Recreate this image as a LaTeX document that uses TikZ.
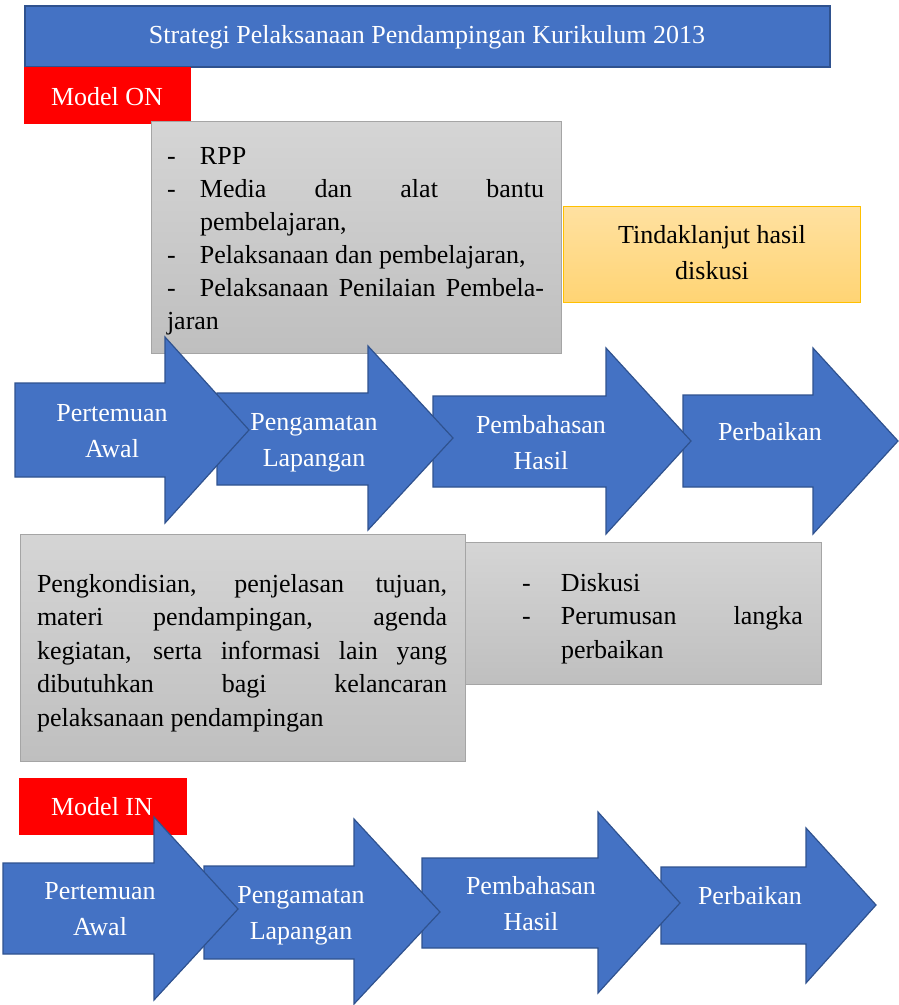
\documentclass[tikz,border=0pt]{standalone}
\usepackage{fontspec}
\setmainfont{Liberation Serif}

\definecolor{flowblue}{HTML}{4472C4}
\definecolor{flowedge}{HTML}{2F528F}
\definecolor{grayTop}{HTML}{D5D5D5}
\definecolor{grayBot}{HTML}{BFBFBF}
\definecolor{grayEdge}{HTML}{A5A5A5}
\definecolor{noteTop}{HTML}{FFE1A1}
\definecolor{noteBot}{HTML}{FFD474}
\definecolor{noteEdge}{HTML}{FFC000}
\definecolor{modelred}{HTML}{FF0000}

% two centred lines, the box baseline being that of the first line
\newcommand\twolines[2]{\vtop{\baselineskip=36pt\halign{\hfil##\hfil\cr #1\cr #2\cr}}}
\newcommand\dashitem{\hbox to 33pt{-\hfil}}

\begin{document}
\begin{tikzpicture}[x=1pt,y=-1pt,
  bodytext/.style={font=\fontsize{26}{33}\selectfont, inner sep=0pt, outer sep=0pt},
  whitetext/.style={bodytext, text=white},
  panel/.style={anchor=north west, inner sep=0pt, outer sep=0pt},
  flowarrow/.style={fill=flowblue, draw=flowedge, line width=1.2pt, line join=miter},
  graybox/.style={panel, top color=grayTop, bottom color=grayBot, draw=grayEdge, line width=1pt},
  notebox/.style={panel, top color=noteTop, bottom color=noteBot, draw=noteEdge, line width=1pt},
  modelbox/.style={panel, fill=modelred}
]
\useasboundingbox (0,0) rectangle (899,1005);

% ---------- heading ----------
\node[panel, fill=flowblue, draw=flowedge, line width=2pt,
      minimum width=805pt, minimum height=61pt] (title) at (25,6) {};
\node[whitetext, anchor=base] (titletext) at (427,43) {Strategi Pelaksanaan Pendampingan Kurikulum 2013};

% ---------- Model ON ----------
\node[modelbox, minimum width=167pt, minimum height=57pt] (modelon) at (24,67) {};
\node[whitetext, anchor=base] (modelontext) at (107,105) {Model ON};

% observation items
\node[graybox, minimum width=410pt, minimum height=232pt] (itembox) at (151,121) {};
\node[bodytext, anchor=base west] (itemtext) at (167,164) {\vtop{\baselineskip=33pt
  \hbox{\dashitem RPP}
  \hbox{\dashitem\hbox to 344pt{Media dan alat bantu}}
  \hbox{\hskip33pt pembelajaran,}
  \hbox{\dashitem Pelaksanaan dan pembelajaran,}
  \hbox{\dashitem\hbox to 344pt{Pelaksanaan Penilaian Pembela-}}
  \hbox{jaran}}};

% follow-up note
\node[notebox, minimum width=297pt, minimum height=96pt] (notebox) at (563,206) {};
\node[bodytext, anchor=base] (notetext) at (712,243) {\twolines{Tindaklanjut hasil}{diskusi}};

% flow arrows, drawn last to first so each tip lies over the next arrow
\path[flowarrow] (683,395) -- (813,395) -- (813,348) -- (898,441) -- (813,534) -- (813,487) -- (683,487) -- cycle;
\path[flowarrow] (433,396) -- (606,396) -- (606,348) -- (691,441) -- (606,534) -- (606,487) -- (433,487) -- cycle;
\path[flowarrow] (217,393) -- (368,393) -- (368,346) -- (453,438) -- (368,530) -- (368,485) -- (217,485) -- cycle;
\path[flowarrow] (15,383) -- (165,383) -- (165,337) -- (249,430) -- (165,523) -- (165,477) -- (15,477) -- cycle;

\node[whitetext, anchor=base] (on1) at (112,421) {\twolines{Pertemuan}{Awal}};
\node[whitetext, anchor=base] (on2) at (314,430) {\twolines{Pengamatan}{Lapangan}};
\node[whitetext, anchor=base] (on3) at (541,433) {\twolines{Pembahasan}{Hasil}};
\node[whitetext, anchor=base] (on4) at (770,440) {Perbaikan};

% discussion items and opening notes
\node[graybox, minimum width=356pt, minimum height=142pt] (discbox) at (465,542) {};
\node[bodytext, anchor=base west] (disctext) at (522,591) {\vtop{\baselineskip=33.5pt
  \hbox{\hbox to 39pt{-\hfil}Diskusi}
  \hbox{\hbox to 39pt{-\hfil}\hbox to 242pt{Perumusan langka}}
  \hbox{\hskip39pt perbaikan}}};

\node[graybox, minimum width=445pt, minimum height=227pt] (openbox) at (20,534) {};
\node[bodytext, anchor=base west] (opentext) at (37,592) {\vtop{\baselineskip=33.5pt
  \hbox to 410pt{Pengkondisian, penjelasan tujuan,}
  \hbox to 410pt{materi pendampingan, agenda}
  \hbox to 410pt{kegiatan, serta informasi lain yang}
  \hbox to 410pt{dibutuhkan bagi kelancaran}
  \hbox{pelaksanaan pendampingan}}};

% ---------- Model IN ----------
\node[modelbox, minimum width=168pt, minimum height=57pt] (modelin) at (19,778) {};
\node[whitetext, anchor=base] (modelintext) at (102,815) {Model IN};

\path[flowarrow] (661,867) -- (806,867) -- (806,828) -- (876,905) -- (806,983) -- (806,944) -- (661,944) -- cycle;
\path[flowarrow] (422,858) -- (598,858) -- (598,812) -- (680,903) -- (598,993) -- (598,948) -- (422,948) -- cycle;
\path[flowarrow] (204,866) -- (354,866) -- (354,819) -- (440,912) -- (354,1004) -- (354,959) -- (204,959) -- cycle;
\path[flowarrow] (3,863) -- (154,863) -- (154,817) -- (238,909) -- (154,1000) -- (154,954) -- (3,954) -- cycle;

\node[whitetext, anchor=base] (in1) at (100,899) {\twolines{Pertemuan}{Awal}};
\node[whitetext, anchor=base] (in2) at (301,903) {\twolines{Pengamatan}{Lapangan}};
\node[whitetext, anchor=base] (in3) at (531,894) {\twolines{Pembahasan}{Hasil}};
\node[whitetext, anchor=base] (in4) at (750,904) {Perbaikan};
\end{tikzpicture}
\end{document}
